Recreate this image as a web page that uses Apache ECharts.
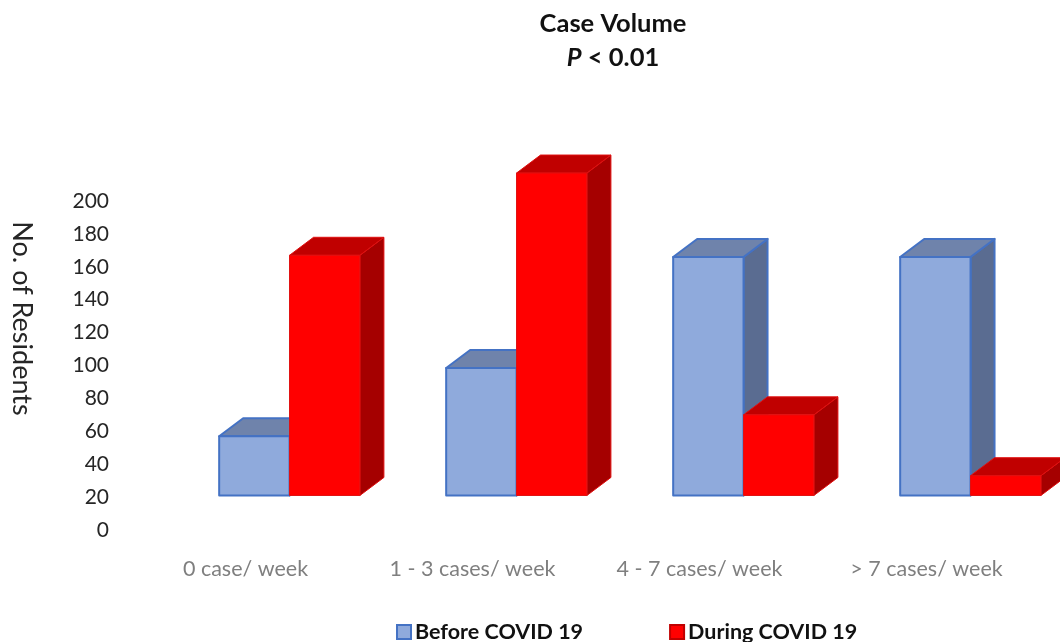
<!DOCTYPE html>
<html>
<head>
<meta charset="utf-8">
<title>Case Volume</title>
<script src="https://cdn.jsdelivr.net/npm/echarts@6/dist/echarts.min.js"></script>
<style>
  html, body { margin: 0; padding: 0; background: #fff; }
  #chart { width: 1060px; height: 642px; }
</style>
</head>
<body>
<div id="chart"></div>
<script>
const categories = ['0 case/ week', '1 - 3 cases/ week', '4 - 7 cases/ week', '> 7 cases/ week'];
const yTicks = [0, 200, 20];
// bar tops as read against the printed axis, the 3D floor sits at about 21
const beforeCovid = [57, 98.5, 166, 166];
const duringCovid = [167, 217, 70, 33];
const floorValue = 21;

const FONT = 'Lato, "Open Sans", sans-serif';

const blue = { front: '#8faadc', top: '#6f83ab', side: '#5a6c91', border: '#4472c4' };
const red = { front: '#ff0000', top: '#c00000', side: '#a50000', border: '#e01010' };

function bar3d(colors, slot) {
  return function (params, api) {
    const band = api.size([1, 0])[0];
    const cat = api.value(0);
    const mid = api.coord([cat, floorValue])[0] + band * 0.194;
    const w = band * 0.31;
    const x0 = mid + (slot === 0 ? -w : 0);
    const x1 = x0 + w;
    const yTop = api.coord([cat, api.value(1)])[1];
    const yBase = api.coord([cat, floorValue])[1];
    const dx = 24;
    const dy = 18;
    const edge = { stroke: colors.border, lineWidth: slot === 0 ? 2 : 1, lineJoin: 'round' };
    return {
      type: 'group',
      children: [
        {
          type: 'polygon',
          shape: { points: [[x1, yTop], [x1 + dx, yTop - dy], [x1 + dx, yBase - dy], [x1, yBase]] },
          style: Object.assign({ fill: colors.side }, edge)
        },
        {
          type: 'polygon',
          shape: { points: [[x0, yTop], [x0 + dx, yTop - dy], [x1 + dx, yTop - dy], [x1, yTop]] },
          style: Object.assign({ fill: colors.top }, edge)
        },
        {
          type: 'rect',
          shape: { x: x0, y: yTop, width: w, height: yBase - yTop },
          style: Object.assign({ fill: colors.front }, edge)
        }
      ]
    };
  };
}

const chart = echarts.init(document.getElementById('chart'), null, { renderer: 'canvas' });

chart.setOption({
  animation: false,
  backgroundColor: '#fff',
  title: {
    text: '{b|Case Volume}\n{i|P}{b| < 0.01}',
    left: 608,
    top: 2,
    textAlign: 'center',
    textStyle: {
      rich: {
        b: { fontFamily: FONT, fontSize: 25.5, fontWeight: 'bold', color: '#111', lineHeight: 34 },
        i: { fontFamily: FONT, fontSize: 25.5, fontWeight: 'bold', fontStyle: 'italic', color: '#111', lineHeight: 34 }
      }
    }
  },
  legend: {
    left: 391,
    top: 616,
    itemWidth: 14,
    itemHeight: 14,
    itemGap: 86,
    selectedMode: false,
    textStyle: { fontFamily: FONT, fontSize: 21.5, fontWeight: 'bold', color: '#111', padding: [0, 0, 0, -1] },
    data: [
      { name: 'Before COVID 19', icon: 'rect', itemStyle: { color: blue.front, borderColor: blue.border, borderWidth: 2 } },
      { name: 'During COVID 19', icon: 'rect', itemStyle: { color: red.front, borderColor: '#c00000', borderWidth: 2 } }
    ]
  },
  grid: { left: 132, top: 201, width: 908, height: 329, outerBoundsMode: 'none' },
  xAxis: {
    type: 'category',
    data: categories,
    axisLine: { show: false },
    axisTick: { show: false },
    axisLabel: { margin: 28, fontFamily: FONT, fontSize: 21.5, color: '#7f7f7f' }
  },
  yAxis: {
    type: 'value',
    min: yTicks[0],
    max: yTicks[1],
    interval: yTicks[2],
    name: 'No. of Residents',
    nameLocation: 'middle',
    nameRotate: -90,
    nameGap: 97,
    nameTextStyle: { fontFamily: FONT, fontSize: 27, color: '#262626', padding: [0, 94, 0, 0] },
    axisLine: { show: false },
    axisTick: { show: false },
    splitLine: { show: false },
    axisLabel: { margin: 23, fontFamily: FONT, fontSize: 21, color: '#262626' }
  },
  series: [
    {
      name: 'Before COVID 19',
      type: 'custom',
      renderItem: bar3d(blue, 0),
      encode: { x: 0, y: 1 },
      data: beforeCovid.map((v, i) => [i, v]),
      z: 2
    },
    {
      name: 'During COVID 19',
      type: 'custom',
      renderItem: bar3d(red, 1),
      encode: { x: 0, y: 1 },
      data: duringCovid.map((v, i) => [i, v]),
      z: 3
    }
  ]
});
</script>
</body>
</html>
